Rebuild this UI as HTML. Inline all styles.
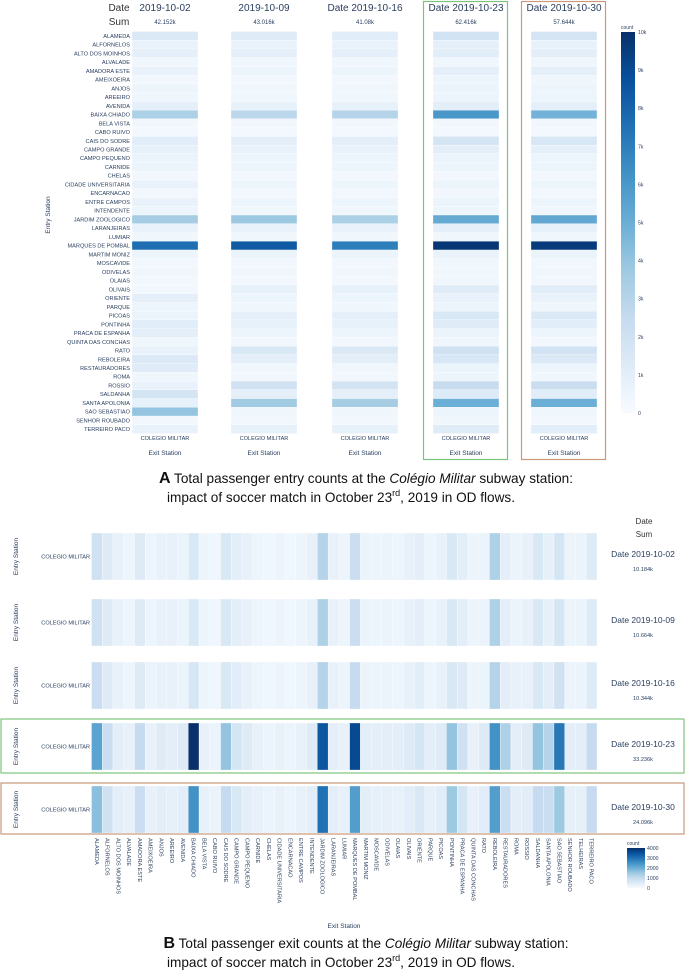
<!DOCTYPE html>
<html><head><meta charset="utf-8">
<style>
html,body{margin:0;padding:0;background:#fff;}
svg{display:block;font-family:"Liberation Sans",sans-serif;}
</style></head>
<body>
<svg id="fig" width="685" height="971" viewBox="0 0 685 971" xmlns="http://www.w3.org/2000/svg">
<g id="gA"></g>
<g id="gB"></g>
<text x="366" y="483" font-size="13.6" text-anchor="middle" fill="#111"><tspan font-weight="bold" font-size="16">A</tspan> Total passenger entry counts at the <tspan font-style="italic">Colégio Militar</tspan> subway station:</text>
<text x="341" y="502" font-size="13.6" text-anchor="middle" fill="#111">impact of soccer match in October 23<tspan font-size="9" dy="-6">rd</tspan><tspan dy="6">, 2019 in OD flows.</tspan></text>
<text x="366" y="948" font-size="13.6" text-anchor="middle" fill="#111"><tspan font-weight="bold" font-size="16">B</tspan> Total passenger exit counts at the <tspan font-style="italic">Colégio Militar</tspan> subway station:</text>
<text x="341" y="967" font-size="13.6" text-anchor="middle" fill="#111">impact of soccer match in October 23<tspan font-size="9" dy="-6">rd</tspan><tspan dy="6">, 2019 in OD flows.</tspan></text>
</svg>
<script>
// ---------- data ----------
const stationsA = ["ALAMEDA","ALFORNELOS","ALTO DOS MOINHOS","ALVALADE","AMADORA ESTE","AMEIXOEIRA","ANJOS","AREEIRO","AVENIDA","BAIXA CHIADO","BELA VISTA","CABO RUIVO","CAIS DO SODRE","CAMPO GRANDE","CAMPO PEQUENO","CARNIDE","CHELAS","CIDADE UNIVERSITARIA","ENCARNACAO","ENTRE CAMPOS","INTENDENTE","JARDIM ZOOLOGICO","LARANJEIRAS","LUMIAR","MARQUES DE POMBAL","MARTIM MONIZ","MOSCAVIDE","ODIVELAS","OLAIAS","OLIVAIS","ORIENTE","PARQUE","PICOAS","PONTINHA","PRACA DE ESPANHA","QUINTA DAS CONCHAS","RATO","REBOLEIRA","RESTAURADORES","ROMA","ROSSIO","SALDANHA","SANTA APOLONIA","SAO SEBASTIAO","SENHOR ROUBADO","TERREIRO PACO"];
const datesA = ["2019-10-02","2019-10-09","Date 2019-10-16","Date 2019-10-23","Date 2019-10-30"];
const sumsA = ["42.152k","43.016k","41.08k","62.416k","57.644k"];
const entryOct02 = [1400,700,900,400,700,300,500,400,900,3300,300,200,1100,800,600,600,300,700,300,700,500,3500,700,400,7600,500,300,400,300,300,900,500,600,1100,1000,400,700,1400,1200,400,700,1800,800,4000,300,700];
const entryOct09 = [1200,700,900,400,500,300,400,400,800,2800,300,200,1000,700,500,500,300,500,300,500,400,3800,700,400,8400,600,300,400,300,800,500,400,900,800,500,300,1500,1000,400,300,2000,900,3700,400,300,800];
const entryOct16 = [1100,700,900,400,500,300,400,400,800,3000,300,200,1000,700,500,500,300,500,300,500,400,3300,700,400,7000,600,300,400,300,800,500,400,900,800,500,300,1400,1000,400,300,1900,900,3500,400,300,800];
const entryOct23 = [1900,900,1100,400,900,500,600,500,1000,6000,300,200,1800,1000,600,500,300,600,300,600,500,5200,900,400,9800,700,400,400,400,1200,700,500,1500,1200,600,400,2000,1600,600,500,2400,1300,5000,500,400,1200];
const entryOct30 = [1700,800,1000,400,900,400,500,500,900,4800,300,200,1600,900,500,500,300,500,300,500,400,5300,800,400,9600,600,300,400,300,1100,700,400,1400,1100,500,300,1900,1400,500,400,2300,1100,5000,400,300,1100];
const seriesA = [entryOct02,entryOct09,entryOct16,entryOct23,entryOct30];
const ticksA = [0,1000,2000,3000,4000,5000,6000,7000,8000,9000,10000];
const tickLabelsA = ["0","1k","2k","3k","4k","5k","6k","7k","8k","9k","10k"];

const stationsB = ["ALAMEDA","ALFORNELOS","ALTO DOS MOINHOS","ALVALADE","AMADORA ESTE","AMEIXOEIRA","ANJOS","AREEIRO","AVENIDA","BAIXA CHIADO","BELA VISTA","CABO RUIVO","CAIS DO SODRE","CAMPO GRANDE","CAMPO PEQUENO","CARNIDE","CHELAS","CIDADE UNIVERSITARIA","ENCARNACAO","ENTRE CAMPOS","INTENDENTE","JARDIM ZOOLOGICO","LARANJEIRAS","LUMIAR","MARQUES DE POMBAL","MARTIM MONIZ","MOSCAVIDE","ODIVELAS","OLAIAS","OLIVAIS","ORIENTE","PARQUE","PICOAS","PONTINHA","PRACA DE ESPANHA","QUINTA DAS CONCHAS","RATO","REBOLEIRA","RESTAURADORES","ROMA","ROSSIO","SALDANHA","SANTA APOLONIA","SAO SEBASTIAO","SENHOR ROUBADO","TELHEIRAS","TERREIRO PACO"];
const datesB = ["Date 2019-10-02","Date 2019-10-09","Date 2019-10-16","Date 2019-10-23","Date 2019-10-30"];
const sumsB = ["10.184k","10.664k","10.344k","33.236k","24.096k"];
const exitOct02 = [800,500,300,200,500,200,300,300,250,600,200,150,600,400,300,200,150,200,150,200,300,1200,300,200,900,250,200,250,200,300,400,200,300,600,400,200,250,1300,400,250,300,600,350,700,250,250,500];
const exitOct09 = [800,500,300,200,500,200,300,300,250,600,200,150,600,400,300,200,150,200,150,200,300,1300,300,200,900,250,200,250,200,300,400,200,300,600,400,200,250,1300,400,250,300,600,350,700,250,250,500];
const exitOct16 = [900,500,300,200,500,250,300,300,250,650,200,150,600,450,300,200,150,200,150,200,300,1200,300,200,1000,250,200,250,200,300,450,200,300,600,500,200,250,1200,400,300,300,600,400,800,250,250,500];
const exitOct23 = [2200,900,400,300,1000,300,500,400,500,4000,300,250,1600,700,500,300,250,300,250,300,500,3400,400,300,3600,400,400,400,400,500,700,400,500,1600,800,300,500,2500,1300,400,500,1600,1200,2900,400,400,1000];
const exitOct30 = [1700,800,400,300,900,300,400,350,400,2500,300,250,1000,600,400,300,250,300,250,300,400,3000,400,300,2300,400,350,350,300,450,600,350,450,1500,700,300,450,2300,900,400,450,1000,900,1500,350,350,1000];
const seriesB = [exitOct02,exitOct09,exitOct16,exitOct23,exitOct30];
const ticksB = [0,1000,2000,3000,4000];

// ---------- helpers ----------
const NS="http://www.w3.org/2000/svg";
const stops=[[247,251,255],[222,235,247],[198,219,239],[158,202,225],[107,174,214],[66,146,198],[33,113,181],[8,81,156],[8,48,107]];
function blues(t){t=Math.max(0,Math.min(1,t));const p=t*8,i=Math.min(7,Math.floor(p)),f=p-i;const a=stops[i],b=stops[i+1];return "rgb("+a.map((v,k)=>Math.round(v+(b[k]-v)*f)).join(",")+")";}
function mk(parent,tag,attrs,txt){const e=document.createElementNS(NS,tag);for(const k in attrs)e.setAttribute(k,attrs[k]);if(txt!==undefined)e.textContent=txt;parent.appendChild(e);return e;}
const TXT="#2a3f5f";

// ---------- panel A ----------
const gA=document.getElementById("gA");
const colX=[132,231,332,433,531], colW=66;
const rowTop=31.5, rowH=8.74;
function yA(i){return rowTop+i*rowH;}
function cA(v){return blues(v/10000);}
let t;
t=mk(gA,"text",{x:119,y:11,"font-size":10,fill:"#333","text-anchor":"middle"},"Date");


t=mk(gA,"text",{x:119,y:25,"font-size":10,fill:"#333","text-anchor":"middle"},"Sum");


stationsA.forEach((s,i)=>{
  const l=mk(gA,"text",{x:130,y:yA(i)+rowH/2+2,"font-size":5.6,fill:TXT,"text-anchor":"end"},s);
  
  
});
t=mk(gA,"text",{x:0,y:0,"font-size":6.5,fill:TXT,"text-anchor":"middle",transform:"translate(50,215) rotate(-90)"},"Entry Station");


seriesA.forEach((ser,c)=>{
  const cx=colX[c]+colW/2;
  const d=mk(gA,"text",{x:cx,y:11,"font-size":10,fill:TXT,"text-anchor":"middle"},datesA[c]);
  
  
  const s=mk(gA,"text",{x:cx,y:24,"font-size":6,fill:TXT,"text-anchor":"middle"},sumsA[c]);
  
  
  ser.forEach((v,i)=>{
    const r=mk(gA,"rect",{x:colX[c],y:yA(i),width:colW,height:rowH,fill:cA(v),stroke:"#fff","stroke-width":0.3});
    
    
  });
  const x=mk(gA,"text",{x:cx,y:440,"font-size":5.6,fill:TXT,"text-anchor":"middle"},"COLEGIO MILITAR");
  
  
  const xt=mk(gA,"text",{x:cx,y:455,"font-size":6.5,fill:TXT,"text-anchor":"middle"},"Exit Station");
  
  
});
let bx=mk(gA,"rect",{x:423.5,y:1.5,width:84,height:458,fill:"none",stroke:"#7cc47a","stroke-width":1.2});


bx=mk(gA,"rect",{x:521.5,y:1.5,width:84,height:458,fill:"none",stroke:"#c9997a","stroke-width":1.2});


// colorbar A
const defs=mk(document.getElementById("fig"),"defs",{});
const gr=mk(defs,"linearGradient",{id:"gradA",x1:0,y1:1,x2:0,y2:0});
stops.forEach((s,i)=>mk(gr,"stop",{offset:i/8,"stop-color":"rgb("+s.join(",")+")"}));
const cbTop=32, cbBot=413;
function ycbA(v){return cbBot-(v/10000)*(cbBot-cbTop);}
t=mk(gA,"text",{x:621,y:29,"font-size":5,fill:TXT},"count");


t=mk(gA,"rect",{x:621,y:cbTop,width:14,height:cbBot-cbTop,fill:"url(#gradA)"});


ticksA.forEach((v,i)=>{
  const l=mk(gA,"text",{x:638,y:ycbA(v)+2,"font-size":5.2,fill:TXT},tickLabelsA[i]);
  
  
});

// ---------- panel B ----------
const gB=document.getElementById("gB");
const bx0=91.5, bx1=597, colWB=(bx1-bx0)/stationsB.length;
const rowY=[533,599,662,723,786], rowHB=47;
function xB(i){return bx0+i*colWB;}
function cB(v){return blues(v/4000);}
t=mk(gB,"text",{x:644,y:524,"font-size":8,fill:"#333","text-anchor":"middle"},"Date");


t=mk(gB,"text",{x:644,y:537,"font-size":8,fill:"#333","text-anchor":"middle"},"Sum");


seriesB.forEach((ser,r)=>{
  const y=rowY[r];
  ser.forEach((v,i)=>{
    const c=mk(gB,"rect",{x:xB(i),y:y,width:colWB,height:rowHB,fill:cB(v),stroke:"#fff","stroke-width":0.3});
    
    
  });
  const yl=mk(gB,"text",{x:90,y:y+rowHB/2+2,"font-size":5.6,fill:TXT,"text-anchor":"end"},"COLEGIO MILITAR");
  
  
  const yt=mk(gB,"text",{x:0,y:0,"font-size":6.5,fill:TXT,"text-anchor":"middle",transform:"translate(18,"+(y+rowHB/2)+") rotate(-90)"},"Entry Station");
  
  
  const d=mk(gB,"text",{x:643,y:y+24,"font-size":8.5,fill:TXT,"text-anchor":"middle"},datesB[r]);
  
  
  const s=mk(gB,"text",{x:643,y:y+38,"font-size":5.6,fill:TXT,"text-anchor":"middle"},sumsB[r]);
  
  
});
stationsB.forEach((s,i)=>{
  const cx=xB(i)+colWB/2;
  const l=mk(gB,"text",{x:0,y:0,"font-size":5.6,fill:TXT,transform:"translate("+(cx-2)+",838) rotate(90)"},s);
  
  
});
t=mk(gB,"text",{x:344,y:928,"font-size":6.5,fill:TXT,"text-anchor":"middle"},"Exit Station");


bx=mk(gB,"rect",{x:1,y:719,width:683,height:54,fill:"none",stroke:"#7cc47a","stroke-width":1.2});


bx=mk(gB,"rect",{x:1,y:783,width:683,height:51,fill:"none",stroke:"#c9997a","stroke-width":1.2});


const cbBTop=848, cbBBot=888;
function ycbB(v){return cbBBot-(v/4000)*(cbBBot-cbBTop);}
t=mk(gB,"text",{x:627,y:845,"font-size":5,fill:TXT},"count");


t=mk(gB,"rect",{x:627,y:cbBTop,width:18,height:cbBBot-cbBTop,fill:"url(#gradA)"});


ticksB.forEach(v=>{
  const l=mk(gB,"text",{x:647,y:ycbB(v)+2,"font-size":5.2,fill:TXT},String(v));
  
  
});
</script>
</body></html>
